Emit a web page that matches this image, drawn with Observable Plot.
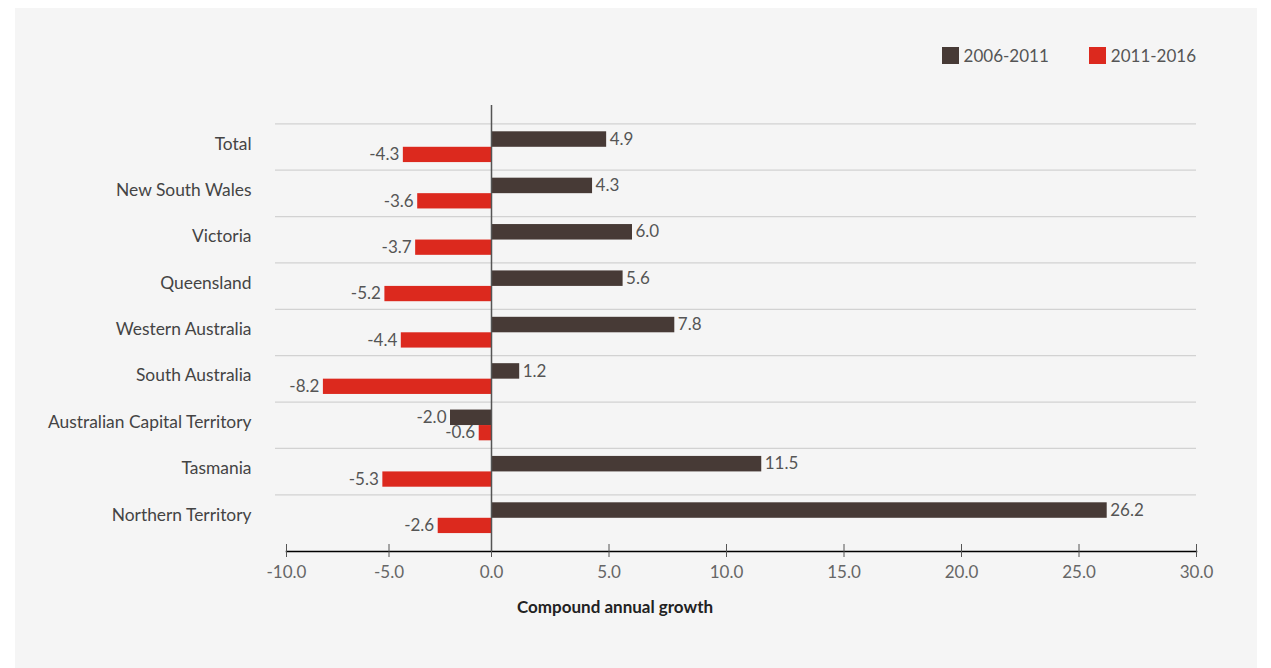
<!DOCTYPE html>
<html><head><meta charset="utf-8">
<script src="https://cdn.jsdelivr.net/npm/d3@7"></script>
<script src="https://cdn.jsdelivr.net/npm/@observablehq/plot@0.6"></script>
<style>
body{margin:0;background:#fff;font-family:Lato,sans-serif;}
#panel{position:absolute;left:15px;top:8px;width:1242px;height:660px;background:#f5f5f5;overflow:hidden}
#legend{height:90px;box-sizing:border-box;padding-top:39px;padding-right:61px;display:flex;justify-content:flex-end;gap:40px}
.item{display:flex;align-items:center;font-size:17px;color:#555;height:17px;line-height:17px}
.sw{width:17px;height:17px;margin-right:5px}
#chart svg{display:block;background:transparent}
</style></head><body>
<div id="panel"><div id="legend"></div><div id="chart"></div></div>
<script>
const categories = ["Total","New South Wales","Victoria","Queensland","Western Australia","South Australia","Australian Capital Territory","Tasmania","Northern Territory"];
const growth2006_2011 = [4.9,4.3,6.0,5.6,7.8,1.2,-2.0,11.5,26.2];
const growth2011_2016 = [-4.3,-3.6,-3.7,-5.2,-4.4,-8.2,-0.6,-5.3,-2.6];
const seriesNames = ["2006-2011","2011-2016"];
const seriesColors = ["#473a36","#dc291e"];
const xTicks = [-10,-5,0,5,10,15,20,25,30];
const axisTitle = "Compound annual growth";

const legend = document.getElementById("legend");
seriesNames.forEach((n,i)=>{
  const it=document.createElement("div");it.className="item";
  it.innerHTML=`<span class="sw" style="background:${seriesColors[i]}"></span><span>${n}</span>`;
  legend.appendChild(it);
});

const d1 = categories.map((c,i)=>({category:c,value:growth2006_2011[i]}));
const d2 = categories.map((c,i)=>({category:c,value:growth2011_2016[i]}));
const fmt = d=>d.toFixed(1);
const band = 46.375;
const top0 = 25.3;
// the reference axis is compressed on the negative side
const negK = 20.5/23.5;
const fwd = v=>v<0?v*negK:v;
const inv = v=>v<0?v/negK:v;

const chart = Plot.plot({
  width:1242,height:570,
  marginLeft:260,marginRight:61,marginTop:7,marginBottom:117,
  style:{fontFamily:"Lato, sans-serif",fontSize:"17px",color:"#555",background:"transparent"},
  x:{type:"linear",transform:fwd,domain:[fwd(-10),30],range:[271,1181]},
  y:{domain:categories,range:[top0,top0+9*band],padding:0,round:false},
  marks:[
    Plot.ruleY(categories,{y:d=>d,dy:-band/2,stroke:"#d2d2d2",strokeWidth:1.2}),
    Plot.barX(d1,{x:"value",y:"category",fill:seriesColors[0],insetTop:8,insetBottom:band/2-0.3}),
    Plot.barX(d2,{x:"value",y:"category",fill:seriesColors[1],insetTop:band/2+0.3,insetBottom:7.6}),
    Plot.ruleX([0],{stroke:"#555",strokeWidth:1.5}),
    Plot.frame({anchor:"bottom",insetLeft:11,stroke:"#000",strokeWidth:1.5}),
    Plot.axisX({ticks:xTicks.map(fwd),tickFormat:v=>fmt(Math.round(inv(v)*10)/10),tickSize:13,dy:-7,tickPadding:8,fontSize:17,stroke:"#555",fill:"#666",label:null}),
    Plot.axisY({tickSize:0,tickPadding:24,dy:-3,fontSize:17.4,fill:"#444",label:null}),
    Plot.text(d1.filter(d=>d.value>=0),{x:"value",y:"category",text:d=>fmt(d.value),textAnchor:"start",dx:3,dy:-7.7,fill:"#555",fontSize:17}),
    Plot.text(d1.filter(d=>d.value<0),{x:"value",y:"category",text:d=>fmt(d.value),textAnchor:"end",dx:-4,dy:-7.7,fill:"#555",fontSize:17}),
    Plot.text(d2.filter(d=>d.value<0),{x:"value",y:"category",text:d=>fmt(d.value),textAnchor:"end",dx:-4,dy:7.7,fill:"#555",fontSize:17}),
    Plot.text([axisTitle],{frameAnchor:"bottom",dx:-121,dy:61,fontWeight:"bold",fill:"#222",fontSize:17})
  ]
});
document.getElementById("chart").appendChild(chart);
</script>
</body></html>
